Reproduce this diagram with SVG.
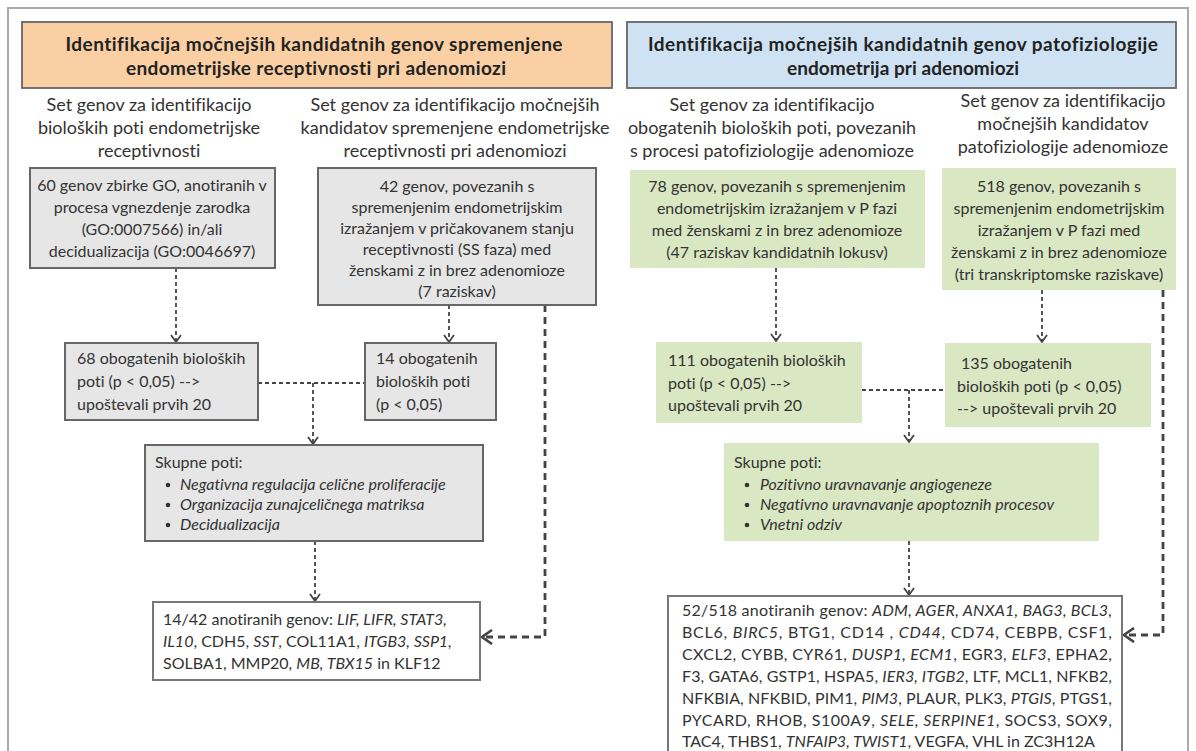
<svg xmlns="http://www.w3.org/2000/svg" width="1196" height="751" viewBox="0 0 1196 751">
<defs>
<style>
text{font-family:Lato,"Open Sans","Liberation Sans",sans-serif;fill:#333;font-variant-ligatures:none;}
.title{font-size:19px;font-weight:bold;text-anchor:middle;fill:#222;}
.sub{font-size:18px;text-anchor:middle;}
.t{font-size:16px;}
.c{text-anchor:middle;}
.i{font-style:italic;}
.gray{fill:#e6e6e6;stroke:#666;stroke-width:2;}
.white{fill:#fff;stroke:#777;stroke-width:2;}
.green{fill:#dae7c3;stroke:none;}
.thin{fill:none;stroke:#444;stroke-width:1.8;stroke-dasharray:4 3;}
.thick{fill:none;stroke:#444;stroke-width:2.8;stroke-dasharray:7 5;}
</style>
<marker id="ah" viewBox="0 0 12 12" refX="10" refY="6" markerWidth="12" markerHeight="12" markerUnits="userSpaceOnUse" orient="auto">
<path d="M3,1 L10,6 L3,11" fill="none" stroke="#444" stroke-width="1.8"/>
</marker>
<marker id="ahb" viewBox="0 0 16 16" refX="14" refY="8" markerWidth="16" markerHeight="16" markerUnits="userSpaceOnUse" orient="auto">
<path d="M4,1 L14,8 L4,15" fill="none" stroke="#444" stroke-width="2.6"/>
</marker>
</defs>
<rect x="0" y="0" width="1196" height="751" fill="#fff"/>
<rect x="8" y="8" width="1180" height="752" fill="none" stroke="#aaa" stroke-width="2"/>

<g id="title-left">
<rect x="22" y="22" width="590" height="66" fill="#f9cfa3" stroke="#666" stroke-width="1.8"/>
<text class="title" x="314" y="51" textLength="497">Identifikacija močnejših kandidatnih genov spremenjene</text>
<text class="title" x="316" y="75" textLength="380">endometrijske receptivnosti pri adenomiozi</text>
</g>
<g id="title-right">
<rect x="627" y="22" width="549" height="66" fill="#cfe2f3" stroke="#666" stroke-width="1.8"/>
<text class="title" x="903" y="51" textLength="510">Identifikacija močnejših kandidatnih genov patofiziologije</text>
<text class="title" x="903" y="75" textLength="232">endometrija pri adenomiozi</text>
</g>

<g id="sub-left-a">
<text class="sub" x="149" y="111">Set genov za identifikacijo</text>
<text class="sub" x="149" y="134">bioloških poti endometrijske</text>
<text class="sub" x="149" y="157">receptivnosti</text>
</g>
<g id="sub-left-b">
<text class="sub" x="455" y="111">Set genov za identifikacijo močnejših</text>
<text class="sub" x="455" y="134">kandidatov spremenjene endometrijske</text>
<text class="sub" x="455" y="157">receptivnosti pri adenomiozi</text>
</g>
<g id="sub-right-a">
<text class="sub" x="772" y="111">Set genov za identifikacijo</text>
<text class="sub" x="772" y="134">obogatenih bioloških poti, povezanih</text>
<text class="sub" x="772" y="157">s procesi patofiziologije adenomioze</text>
</g>
<g id="sub-right-b">
<text class="sub" x="1063" y="107">Set genov za identifikacijo</text>
<text class="sub" x="1063" y="130">močnejših kandidatov</text>
<text class="sub" x="1063" y="153">patofiziologije adenomioze</text>
</g>

<g id="connectors">
<path class="thin" d="M176,268 V342" marker-end="url(#ah)"/>
<path class="thin" d="M449,305 V342" marker-end="url(#ah)"/>
<path class="thin" d="M258,383 H365"/>
<path class="thin" d="M313,383 V444" marker-end="url(#ah)"/>
<path class="thin" d="M315,541 V601" marker-end="url(#ah)"/>
<path class="thick" d="M545,305 V637 H482" marker-end="url(#ahb)"/>
<path class="thin" d="M776,268 V341" marker-end="url(#ah)"/>
<path class="thin" d="M1042,290 V342" marker-end="url(#ah)"/>
<path class="thin" d="M862,390 H945"/>
<path class="thin" d="M909,390 V442" marker-end="url(#ah)"/>
<path class="thin" d="M909,541 V595" marker-end="url(#ah)"/>
<path class="thick" d="M1163,290 V635 H1124" marker-end="url(#ahb)"/>
</g>

<g id="n-go60">
<rect class="gray" x="30" y="168" width="245" height="100"/>
<text class="t c" x="152" y="191">60 genov zbirke GO, anotiranih v</text>
<text class="t c" x="152" y="213">procesa vgnezdenje zarodka</text>
<text class="t c" x="152" y="235">(GO:0007566) in/ali</text>
<text class="t c" x="152" y="257">decidualizacija (GO:0046697)</text>
</g>
<g id="n-42">
<rect class="gray" x="318" y="168" width="278" height="137"/>
<text class="t c" x="457" y="192">42 genov, povezanih s</text>
<text class="t c" x="457" y="213">spremenjenim endometrijskim</text>
<text class="t c" x="457" y="234">izražanjem v pričakovanem stanju</text>
<text class="t c" x="457" y="255">receptivnosti (SS faza) med</text>
<text class="t c" x="457" y="276">ženskami z in brez adenomioze</text>
<text class="t c" x="457" y="297">(7 raziskav)</text>
</g>
<g id="n-68">
<rect class="gray" x="65" y="343" width="193" height="77"/>
<text class="t" x="77" y="364">68 obogatenih bioloških</text>
<text class="t" x="77" y="387">poti (p &lt; 0,05) --&gt;</text>
<text class="t" x="77" y="410">upoštevali prvih 20</text>
</g>
<g id="n-14">
<rect class="gray" x="365" y="343" width="131" height="77"/>
<text class="t" x="376" y="364">14 obogatenih</text>
<text class="t" x="376" y="387">bioloških poti</text>
<text class="t" x="376" y="410">(p &lt; 0,05)</text>
</g>
<g id="n-skupne-left">
<rect class="gray" x="145" y="445" width="338" height="96"/>
<text class="t" x="155" y="468">Skupne poti:</text>
<circle cx="168" cy="485" r="2.3" fill="#333"/>
<circle cx="168" cy="505" r="2.3" fill="#333"/>
<circle cx="168" cy="525" r="2.3" fill="#333"/>
<text class="t i" x="180" y="490">Negativna regulacija celične proliferacije</text>
<text class="t i" x="180" y="510">Organizacija zunajceličnega matriksa</text>
<text class="t i" x="180" y="530">Decidualizacija</text>
</g>
<g id="n-1442">
<rect class="white" x="153" y="602" width="327" height="78"/>
<text class="t" x="163" y="625">14/42 anotiranih genov: <tspan class="i">LIF, LIFR, STAT3,</tspan></text>
<text class="t" x="163" y="647"><tspan class="i">IL10</tspan>, CDH5, <tspan class="i">SST</tspan>, COL11A1, <tspan class="i">ITGB3, SSP1,</tspan></text>
<text class="t" x="163" y="669">SOLBA1, MMP20, <tspan class="i">MB, TBX15</tspan> in KLF12</text>
</g>

<g id="n-78">
<rect class="green" x="630" y="170" width="295" height="98"/>
<text class="t c" x="777" y="192">78 genov, povezanih s spremenjenim</text>
<text class="t c" x="777" y="214">endometrijskim izražanjem v P fazi</text>
<text class="t c" x="777" y="236">med ženskami z in brez adenomioze</text>
<text class="t c" x="777" y="258">(47 raziskav kandidatnih lokusv)</text>
</g>
<g id="n-518">
<rect class="green" x="942" y="168" width="234" height="122"/>
<text class="t c" x="1059" y="192">518 genov, povezanih  s</text>
<text class="t c" x="1059" y="214">spremenjenim endometrijskim</text>
<text class="t c" x="1059" y="236">izražanjem v P fazi med</text>
<text class="t c" x="1059" y="258">ženskami z in brez adenomioze</text>
<text class="t c" x="1059" y="280">(tri transkriptomske raziskave)</text>
</g>
<g id="n-111">
<rect class="green" x="656" y="342" width="206" height="81"/>
<text class="t" x="668" y="366">111 obogatenih bioloških</text>
<text class="t" x="668" y="389">poti (p &lt; 0,05) --&gt;</text>
<text class="t" x="668" y="411">upoštevali prvih 20</text>
</g>
<g id="n-135">
<rect class="green" x="945" y="343" width="206" height="84"/>
<text class="t" x="961" y="369">135 obogatenih</text>
<text class="t" x="957" y="392">bioloških poti (p &lt; 0,05)</text>
<text class="t" x="957" y="414">--&gt; upoštevali prvih 20</text>
</g>
<g id="n-skupne-right">
<rect class="green" x="724" y="443" width="375" height="98"/>
<text class="t" x="734" y="468">Skupne poti:</text>
<circle cx="747" cy="485" r="2.3" fill="#333"/>
<circle cx="747" cy="505" r="2.3" fill="#333"/>
<circle cx="747" cy="525" r="2.3" fill="#333"/>
<text class="t i" x="760" y="490">Pozitivno uravnavanje angiogeneze</text>
<text class="t i" x="760" y="510">Negativno uravnavanje apoptoznih procesov</text>
<text class="t i" x="760" y="530">Vnetni odziv</text>
</g>
<g id="n-52518">
<rect class="white" x="668" y="596" width="454" height="160"/>
<text class="t" x="682" y="616" textLength="430">52/518 anotiranih genov: <tspan class="i">ADM, AGER, ANXA1, BAG3, BCL3,</tspan></text>
<text class="t" x="682" y="638" textLength="430">BCL6, <tspan class="i">BIRC5</tspan>, BTG1, CD14 , <tspan class="i">CD44</tspan>, CD74, CEBPB, CSF1,</text>
<text class="t" x="682" y="660" textLength="430">CXCL2, CYBB, CYR61, <tspan class="i">DUSP1, ECM1</tspan>, EGR3, <tspan class="i">ELF3</tspan>, EPHA2,</text>
<text class="t" x="682" y="682" textLength="430">F3, GATA6, GSTP1, HSPA5, <tspan class="i">IER3, ITGB2</tspan>, LTF, MCL1, NFKB2,</text>
<text class="t" x="682" y="704" textLength="430">NFKBIA, NFKBID, PIM1, <tspan class="i">PIM3</tspan>, PLAUR, PLK3, <tspan class="i">PTGIS</tspan>,  PTGS1,</text>
<text class="t" x="682" y="726" textLength="430">PYCARD, RHOB, S100A9, <tspan class="i">SELE, SERPINE1</tspan>, SOCS3, SOX9,</text>
<text class="t" x="682" y="747">TAC4, THBS1, <tspan class="i">TNFAIP3, TWIST1</tspan>, VEGFA, VHL in ZC3H12A</text>
</g>
</svg>
